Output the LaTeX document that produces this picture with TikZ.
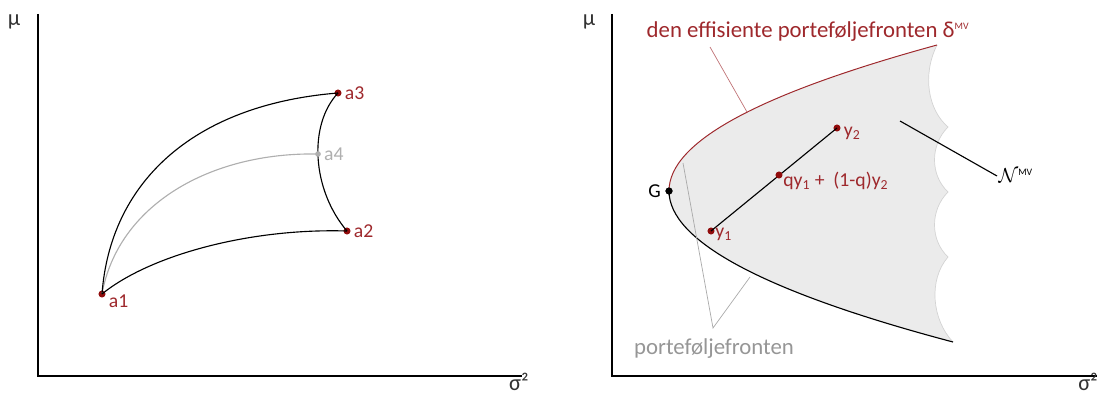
\documentclass[tikz,border=0pt]{standalone}
\usepackage{fontspec}
\setmainfont{Carlito}
\usepackage{xcolor}
\usetikzlibrary{positioning}

\definecolor{frontred}{RGB}{158,40,44}
\definecolor{dotred}{RGB}{145,12,12}
\definecolor{labgray}{RGB}{150,150,150}
\definecolor{pointgray}{RGB}{175,175,175}
\definecolor{regiongray}{RGB}{235,235,235}
\definecolor{edgegray}{RGB}{212,212,212}

\tikzset{
  axis/.style={line width=1.5pt},
  curve/.style={line width=0.8pt},
  dot/.style={circle,fill=dotred,inner sep=0pt,minimum size=5pt},
  axname/.style={text=black!80,font=\fontsize{16}{18}\selectfont,inner sep=1pt},
  axlab/.style={text=black!80,font=\fontsize{14}{16}\selectfont,inner sep=1pt},
  redlab/.style={text=frontred,font=\fontsize{14}{16}\selectfont,inner sep=1pt},
  bigred/.style={text=frontred,font=\fontsize{16.2}{19}\selectfont,inner sep=1pt},
  leader/.style={line width=0.5pt},
}

\begin{document}
\begin{tikzpicture}[x=0.025cm,y=-0.025cm,node distance=1pt]
  \useasboundingbox (0,0) rectangle (1103,394);

  % left panel: axes
  \coordinate (top1) at (38,14);
  \coordinate (O1) at (38,376);
  \coordinate (end1) at (522,376);
  \draw[axis] (top1) -- (O1) -- (end1);
  \node[axname] (mu1) at (14,22) {μ};
  \node[axname,anchor=base,inner sep=0pt] (sig1) at (519,390) {σ²};

  % left panel: the four assets
  \node[dot] (a1) at (102,294) {};
  \node[dot] (a2) at (347,231) {};
  \node[dot] (a3) at (338,93) {};
  \draw[curve,pointgray] (a1.center) .. controls (118,205) and (210,152) .. (318,154);
  \draw[curve] (a1.center) .. controls (110,185) and (190,105) .. (a3.center);
  \draw[curve] (a1.center) .. controls (150,255) and (250,228) .. (a2.center);
  \draw[curve] (a3.center) .. controls (308,125) and (312,190) .. (a2.center);
  \node[dot,fill=pointgray,minimum size=4pt] (a4) at (318,154) {};
  \node[redlab,right=1pt of a1,yshift=-5pt] (la1) {a1};
  \node[redlab,right=of a2] (la2) {a2};
  \node[redlab,right=of a3] (la3) {a3};
  \node[redlab,text=pointgray,right=of a4] (la4) {a4};

  % right panel: axes
  \coordinate (top2) at (612,14);
  \coordinate (O2) at (612,376);
  \coordinate (end2) at (1097,376);
  \draw[axis] (top2) -- (O2) -- (end2);
  \node[axname] (mu2) at (589,22) {μ};
  \node[axname,anchor=base,inner sep=0pt] (sig2) at (1088,390) {σ²};

  % right panel: the set of portfolios
  \coordinate (T) at (937,45);
  \coordinate (B) at (953,342);
  \fill[regiongray] (669,191) .. controls (669,142) and (758,94) .. (T)
    .. controls (922,75) and (928,110) .. (948,127)
    .. controls (930,145) and (930,175) .. (948,192)
    .. controls (930,210) and (930,240) .. (948,257)
    .. controls (928,280) and (932,320) .. (B)
    .. controls (764,292) and (669,241) .. (669,191) -- cycle;
  \draw[edgegray,line width=0.5pt] (T)
    .. controls (922,75) and (928,110) .. (948,127)
    .. controls (930,145) and (930,175) .. (948,192)
    .. controls (930,210) and (930,240) .. (948,257)
    .. controls (928,280) and (932,320) .. (B);
  \node[dot,fill=black] (G) at (669,191) {};
  \draw[curve,frontred,line width=0.7pt] (G.center) .. controls (669,142) and (758,94) .. (T);
  \draw[curve] (G.center) .. controls (669,241) and (764,292) .. (B);
  \node[dot,fill=black] at (G) {};
  \node[axlab,text=black,left=2pt of G] (lG) {G};

  % two portfolios and a combination
  \node[dot] (y1) at (711,231) {};
  \node[dot] (y2) at (837,128) {};
  \draw[curve] (y1.center) -- (y2.center);
  \node[dot] (ymid) at (779,175) {};
  \node[redlab,right=1pt of y2,yshift=-4pt] (ly2) {y\textsubscript{2}};
  \node[redlab,below right=-5pt and 0pt of y1] (ly1) {y\textsubscript{1}};
  \node[redlab,below right=-5pt and 0pt of ymid] (lmid) {qy\textsubscript{1} + \ (1-q)y\textsubscript{2}};

  % labels with leaders
  \node[bigred,anchor=base west] (eff) at (645,38) {den effisiente porteføljefronten δ\textsuperscript{\scriptsize MV}};
  \coordinate (effpt) at (747,112);
  \coordinate (efftop) at (710,47);
  \draw[leader,frontred!65] (efftop) -- (effpt);

  \node[bigred,text=labgray,anchor=base] (pf) at (714,354) {porteføljefronten};
  \coordinate (pfapex) at (713,328);
  \coordinate (pfup) at (683,163);
  \coordinate (pflow) at (750,277);
  \draw[leader,edgegray!80!black] (pfup) -- (pfapex) -- (pflow);

  \coordinate (nmvin) at (900,121);
  \node[axlab,text=black,anchor=west,font=\fontsize{15}{17}\selectfont] (nmv) at (997,176) {$\mathcal{N}$\textsuperscript{\scriptsize MV}};
  \draw[curve] (nmvin) -- (nmv.west);
\end{tikzpicture}
\end{document}
